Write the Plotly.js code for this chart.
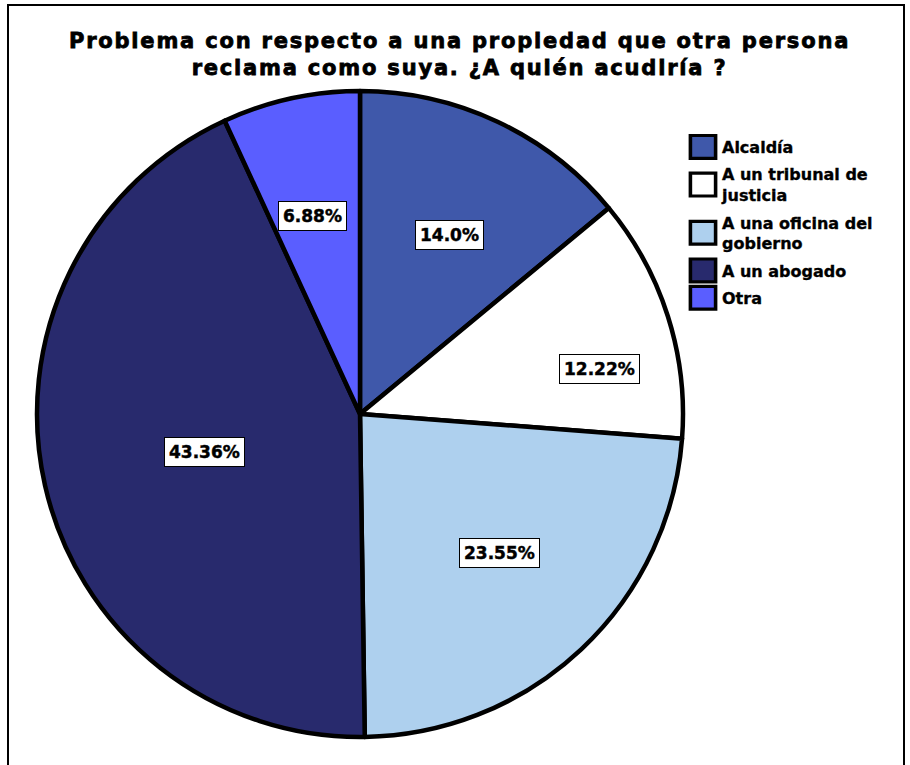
<!DOCTYPE html>
<html>
<head>
<meta charset="utf-8">
<script src="https://cdn.plot.ly/plotly-3.0.1.min.js"></script>
<style>
  html, body { margin: 0; padding: 0; background: #fff; overflow: hidden; }
  #chart { width: 910px; height: 765px; }
  .gtitle { letter-spacing: 1.8px; stroke: #000; stroke-width: 0.8px; }
  .legendtext { stroke: #000; stroke-width: 0.35px; }
  .annotation-text { stroke: #000; stroke-width: 0.45px; }
</style>
</head>
<body>
<div id="chart"></div>
<script>
// ---- data ----
const categories = ["Alcaldía", "A un tribunal de<br>justicia", "A una oficina del<br>gobierno", "A un abogado", "Otra"];
const percentages = [14.0, 12.22, 23.55, 43.36, 6.88];
const labelTexts = ["14.0%", "12.22%", "23.55%", "43.36%", "6.88%"];

// ---- style ----
const sliceColors = ["#3F58AA", "#FFFFFF", "#AED0EE", "#282A6D", "#5A5EFF"];
const W = 910, H = 765;
const CX = 360, CY = 414, R = 323;           // pie centre and radius in pixels
const labelRadius = [0.62, 0.755, 0.61, 0.495, 0.63];  // label distance as fraction of radius
const labelShift = [1.5, 7, -2, -1, -1];               // small angle offsets (degrees)
const FONT = "DejaVu Sans, Arial, sans-serif";

// label positions derived from the values
const total = percentages.reduce((a, b) => a + b, 0);
let cum = 0;
const annotations = percentages.map((v, i) => {
  const mid = (cum + v / 2) / total * 360 + labelShift[i];
  cum += v;
  const a = mid * Math.PI / 180;
  const px = CX + R * labelRadius[i] * Math.sin(a);
  const py = CY - R * labelRadius[i] * Math.cos(a);
  return {
    text: labelTexts[i], x: px / W, y: 1 - py / H, xref: "paper", yref: "paper",
    xanchor: "center", yanchor: "middle",
    showarrow: false, font: { family: FONT, size: 17, color: "#000", weight: "bold" },
    bgcolor: "#FFFFFF", bordercolor: "#000", borderwidth: 1, borderpad: 4
  };
});

const trace = {
  type: "pie",
  labels: categories,
  values: percentages,
  sort: false,
  direction: "clockwise",
  rotation: 0,
  textinfo: "none",
  hoverinfo: "none",
  marker: { colors: sliceColors, line: { color: "#000", width: 4.5 } },
  domain: { x: [(CX - R) / W, (CX + R) / W], y: [1 - (CY + R) / H, 1 - (CY - R) / H] }
};

const layout = {
  width: W, height: H,
  margin: { l: 0, r: 0, t: 0, b: 0 },
  paper_bgcolor: "#fff",
  title: {
    text: "Problema con respecto a una propiedad que otra persona<br>reclama como suya. ¿A quién acudiría ?",
    font: { family: FONT, size: 21, color: "#000", weight: "bold" },
    x: 0.505, xanchor: "center", y: 1 - 48 / H, yanchor: "top", yref: "container"
  },
  showlegend: true,
  legend: {
    x: 682 / W, xanchor: "left", y: 1 - 130 / H, yanchor: "top",
    font: { family: FONT, size: 16, color: "#000", weight: "bold" },
    bgcolor: "rgba(0,0,0,0)", tracegroupgap: 0, itemclick: false
  },
  annotations: annotations,
  shapes: [{
    type: "rect", xref: "paper", yref: "paper",
    x0: 8 / W, x1: 904 / W, y0: -0.2, y1: 1 - 5 / H,
    line: { color: "#000", width: 2 }, fillcolor: "rgba(0,0,0,0)", layer: "below"
  }]
};

Plotly.newPlot("chart", [trace], layout, { displayModeBar: false, staticPlot: true }).then(gd => {
  gd.querySelectorAll(".legendpoints path").forEach(p => {
    const t = p.getAttribute("transform") || "";
    p.setAttribute("transform", "translate(1,0) " + t + " scale(2.1,1.9)");
    p.style.strokeWidth = "1.7px";
  });
  const sb = gd.querySelector(".legend .scrollbox");
  if (sb) { sb.removeAttribute("clip-path"); sb.style.clipPath = "none"; }
  gd.querySelectorAll(".legend .traces").forEach((g, i) => {
    const t = g.getAttribute("transform") || "";
    const m = t.match(/translate\(\s*([-\d.]+)[ ,]+([-\d.]+)\s*\)/);
    if (m) g.setAttribute("transform", "translate(" + m[1] + "," + (parseFloat(m[2]) + i * 3.5) + ")");
  });
});
</script>
</body>
</html>
